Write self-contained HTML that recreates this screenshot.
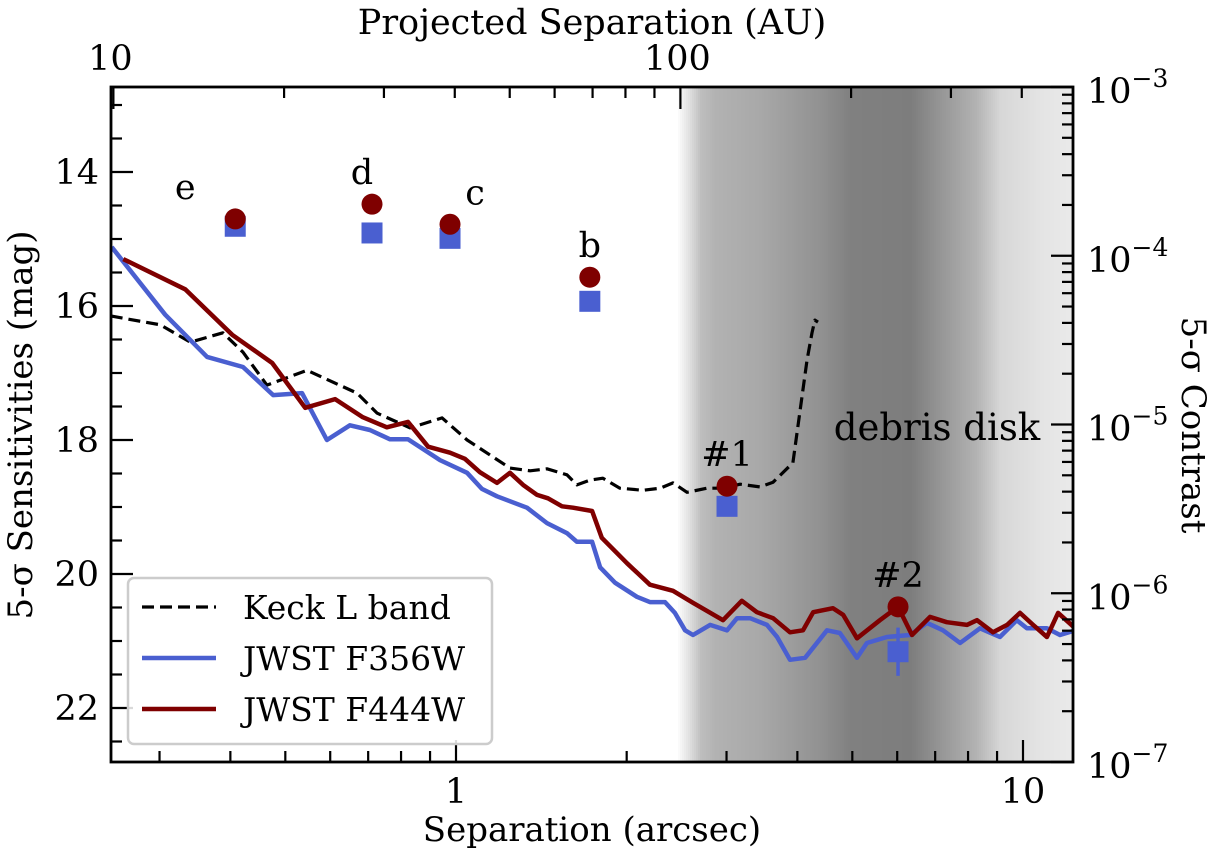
<!DOCTYPE html>
<html><head><meta charset="utf-8"><style>
html,body{margin:0;padding:0;background:#fff;}
svg{display:block;font-family:"DejaVu Serif","Liberation Serif",serif;}
</style></head><body>
<svg id="chart" width="1210" height="857" viewBox="0 0 1210 857" xmlns="http://www.w3.org/2000/svg">
<defs></defs>
<g id="shade"></g>
<g id="series"></g>
<g id="markers"></g>
<g id="axes"></g>
</svg>
<script>
const NS='http://www.w3.org/2000/svg';
// ---- data ----
const keckSep=[0.246,0.301,0.340,0.388,0.421,0.464,0.546,0.669,0.726,0.830,0.945,1.046,1.245,1.351,1.447,1.569,1.634,1.722,1.816,1.946,2.138,2.291,2.414,2.555,2.773,2.957,3.170,3.437,3.624,3.928,4.159,4.245,4.296,4.350];
const keckMag=[16.15,16.28,16.54,16.40,16.69,17.18,16.96,17.30,17.60,17.82,17.67,18.0,18.42,18.46,18.43,18.52,18.67,18.60,18.57,18.72,18.75,18.72,18.64,18.78,18.72,18.72,18.66,18.70,18.63,18.34,16.81,16.40,16.21,16.24];
const f356Sep=[0.247,0.307,0.364,0.421,0.476,0.535,0.592,0.650,0.705,0.765,0.823,0.937,1.046,1.111,1.181,1.334,1.447,1.569,1.634,1.738,1.795,1.907,2.085,2.198,2.337,2.433,2.535,2.618,2.806,3.006,3.130,3.301,3.536,3.684,3.882,4.127,4.511,4.754,5.096,5.306,5.754,6.318,6.772,7.226,7.745,8.399,9.105,9.75,10.16,11.02,11.62,12.36];
const f356Mag=[15.12,16.13,16.76,16.91,17.33,17.30,18.0,17.78,17.85,17.99,17.99,18.30,18.49,18.73,18.84,19.01,19.24,19.39,19.52,19.52,19.90,20.13,20.34,20.42,20.42,20.58,20.84,20.91,20.76,20.84,20.66,20.66,20.76,20.94,21.28,21.25,20.84,20.88,21.25,21.03,20.94,20.91,20.73,20.84,21.03,20.81,20.94,20.69,20.81,20.81,20.91,20.84];
const f444Sep=[0.259,0.333,0.403,0.474,0.542,0.612,0.685,0.755,0.823,0.893,0.976,1.037,1.102,1.181,1.245,1.313,1.390,1.453,1.538,1.608,1.738,1.808,2.003,2.198,2.414,2.618,2.957,3.192,3.394,3.624,3.882,4.093,4.265,4.622,4.818,5.096,5.593,6.020,6.371,6.855,7.339,7.962,8.297,8.852,9.373,9.88,10.42,11.02,11.53,12.36];
const f444Mag=[15.30,15.75,16.43,16.85,17.52,17.39,17.66,17.81,17.73,18.10,18.19,18.28,18.48,18.64,18.49,18.67,18.82,18.87,18.99,19.01,19.06,19.46,19.84,20.16,20.25,20.43,20.69,20.40,20.57,20.66,20.87,20.84,20.57,20.51,20.61,20.96,20.69,20.49,20.91,20.64,20.72,20.76,20.69,20.87,20.76,20.58,20.76,20.94,20.58,20.81];
const planetNames=['e','d','c','b','#1','#2'];
const planetSep=[0.408,0.711,0.976,1.722,3.006,6.020];
const planetMagF444=[14.70,14.48,14.78,15.57,18.69,20.49];
const planetMagF356=[14.81,14.91,14.99,15.93,18.99,21.16];
const planetErrF356=[0.15,0.05,0.05,0.05,0.05,0.36];
const labelDx=[-50,-10,25,0,0,0];
const yTicks=[14,16,18,20,22];
const xTickLabels=['1','10'];
const auTicks=[10,100];
const contrastExps=[-3,-4,-5,-6,-7];
// ---- scales ----
const L=111,R=1073,T=87,B=762;
const X=s=>456+567*Math.log10(s);
const Y=m=>172+67*(m-14);
const distPc=40.2;
const XAU=a=>X(a/distPc);
const YCon=e=>T+(-3-e)*168.75;
function el(tag,attrs,parent){const e=document.createElementNS(NS,tag);for(const k in attrs)e.setAttribute(k,attrs[k]);(parent||svg).appendChild(e);return e;}
const svg=document.getElementById('chart');
// shading
const sh=document.getElementById('shade');


const grad=[[0,255],[676,255],[688,225],[700,190],[715,178],[760,168],[820,145],[850,128],[910,125],[940,150],[975,178],[1000,215],[1040,228],[1073,234]];
for(let i=0;i<grad.length-1;i++){
  const [x0,c0]=grad[i],[x1,c1]=grad[i+1];
  for(let x=Math.max(L,x0);x<x1;x+=2){
    const c=Math.round(c0+(c1-c0)*(x-x0)/(x1-x0));
    if(c>=254)continue;
    el('rect',{x:x,y:T,width:2.3,height:B-T,fill:`rgb(${c},${c},${c})`},sh);
  }
}
const ddl=el('text',{x:937,y:440,'font-size':37,'text-anchor':'middle',fill:'#000'});
ddl.textContent='debris disk';


// clip
const cp=el('clipPath',{id:'clip'},svg.querySelector('defs'));
el('rect',{x:L,y:T,width:R-L,height:B-T},cp);
const ser=document.getElementById('series');
ser.setAttribute('clip-path','url(#clip)');
function line(xs,ys,style,name){
  const d=xs.map((s,i)=>(i?'L':'M')+X(s).toFixed(1)+','+Y(ys[i]).toFixed(1)).join('');
  const p=el('path',Object.assign({d:d,fill:'none','stroke-linejoin':'round'},style),ser);
  
  
}
line(keckSep,keckMag,{stroke:'#000','stroke-width':3.2,'stroke-dasharray':'12,6'},'keck-l-band-curve');
line(f356Sep,f356Mag,{stroke:'#4a5fd0','stroke-width':4.5},'jwst-f356w-curve');
line(f444Sep,f444Mag,{stroke:'#7f0000','stroke-width':4.5},'jwst-f444w-curve');
// markers
const mk=document.getElementById('markers');
planetSep.forEach((s,i)=>{
  const x=X(s),yb=Y(planetMagF356[i]),yr=Y(planetMagF444[i]);
  const eb=el('line',{x1:x,x2:x,y1:Y(planetMagF356[i]-planetErrF356[i]),y2:Y(planetMagF356[i]+planetErrF356[i]),stroke:'#4a5fd0','stroke-width':3.5},mk);
  
  
  const sq=el('rect',{x:x-10.5,y:yb-10.5,width:21,height:21,fill:'#4a5fd0'},mk);
  
  
  const c=el('circle',{cx:x,cy:yr,r:10.5,fill:'#7f0000'},mk);
  
  
  const t=el('text',{x:x+labelDx[i],y:Math.min(yr,yb)-20,'font-size':35,'text-anchor':'middle'},mk);
  t.textContent=planetNames[i];
  
  
});
// axes
const ax=document.getElementById('axes');
const fr=el('rect',{x:L,y:T,width:R-L,height:B-T,fill:'none',stroke:'#000','stroke-width':2.8},ax);


function tick(x1,y1,x2,y2){el('line',{x1,y1,x2,y2,stroke:'#000','stroke-width':2.2},ax);}
for(let m=13;m<=22.75;m+=0.5){const y=Y(m);if(y<T+1||y>B-1)continue;const maj=yTicks.includes(m);tick(L,y,L+(maj?22:11),y);}
yTicks.forEach(m=>{const t=el('text',{x:L-12,y:Y(m)+12,'font-size':35,'text-anchor':'end'},ax);t.textContent=m;});
for(let dec=0.1;dec<=10;dec*=10){for(let k=1;k<10;k++){const s=dec*k;const x=X(s);if(x<L+1||x>R-1)continue;const maj=k===1;tick(x,B,x,B-(maj?22:11));}}
xTickLabels.forEach(v=>{const t=el('text',{x:X(+v),y:B+41,'font-size':35,'text-anchor':'middle'},ax);t.textContent=v;});
for(let dec=10;dec<=100;dec*=10){for(let k=1;k<10;k++){const a=dec*k;const x=XAU(a);if(x<L+1||x>R-1)continue;const maj=k===1;tick(x,T,x,T+(maj?22:11));}}
auTicks.forEach(v=>{const t=el('text',{x:XAU(v)-3,y:T-17,'font-size':35,'text-anchor':'middle'},ax);t.textContent=v;});
contrastExps.forEach((e)=>{
  const y=YCon(e);tick(R,y,R-22,y);
  if(e>-7){for(let k=2;k<10;k++){const yy=YCon(e-1+Math.log10(k));tick(R,yy,R-11,yy);}}
  const t=el('text',{x:R+14,y:y+16,'font-size':35},ax);
  
  t.innerHTML='10<tspan dy="-16" font-size="25">\u2212'+(-e)+'</tspan>';
});
function title(txt,attrs,name){const t=el('text',Object.assign({'font-size':34,'text-anchor':'middle'},attrs),ax);t.textContent=txt;}
title('Separation (arcsec)',{x:592,y:841},'x-axis-title');
title('Projected Separation (AU)',{x:592,y:34,'font-size':35},'top-axis-title');
title('5-\u03c3 Sensitivities (mag)',{x:0,y:0,transform:'translate(32,425) rotate(-90)'},'y-axis-title');
title('5-\u03c3 Contrast',{x:0,y:0,transform:'translate(1182,425) rotate(90)'},'right-axis-title');
// legend
const lg=el('g',{},ax);


el('rect',{x:128,y:578,width:364,height:166,rx:6,fill:'#fff','fill-opacity':0.85,stroke:'#ccc','stroke-width':2.5},lg);
const legNames=['Keck L band','JWST F356W','JWST F444W'];
const legStyles=[{stroke:'#000','stroke-width':3.2,'stroke-dasharray':'12,6'},{stroke:'#4a5fd0','stroke-width':4.5},{stroke:'#7f0000','stroke-width':4.5}];
legNames.forEach((n,i)=>{
  const y=607+51*i;
  const g=el('g',{},lg);
  
  
  el('line',Object.assign({x1:142,x2:216,y1:y,y2:y},legStyles[i]),g);
  const t=el('text',{x:243,y:y+12,'font-size':33},g);t.textContent=n;
});
</script>
</body></html>
